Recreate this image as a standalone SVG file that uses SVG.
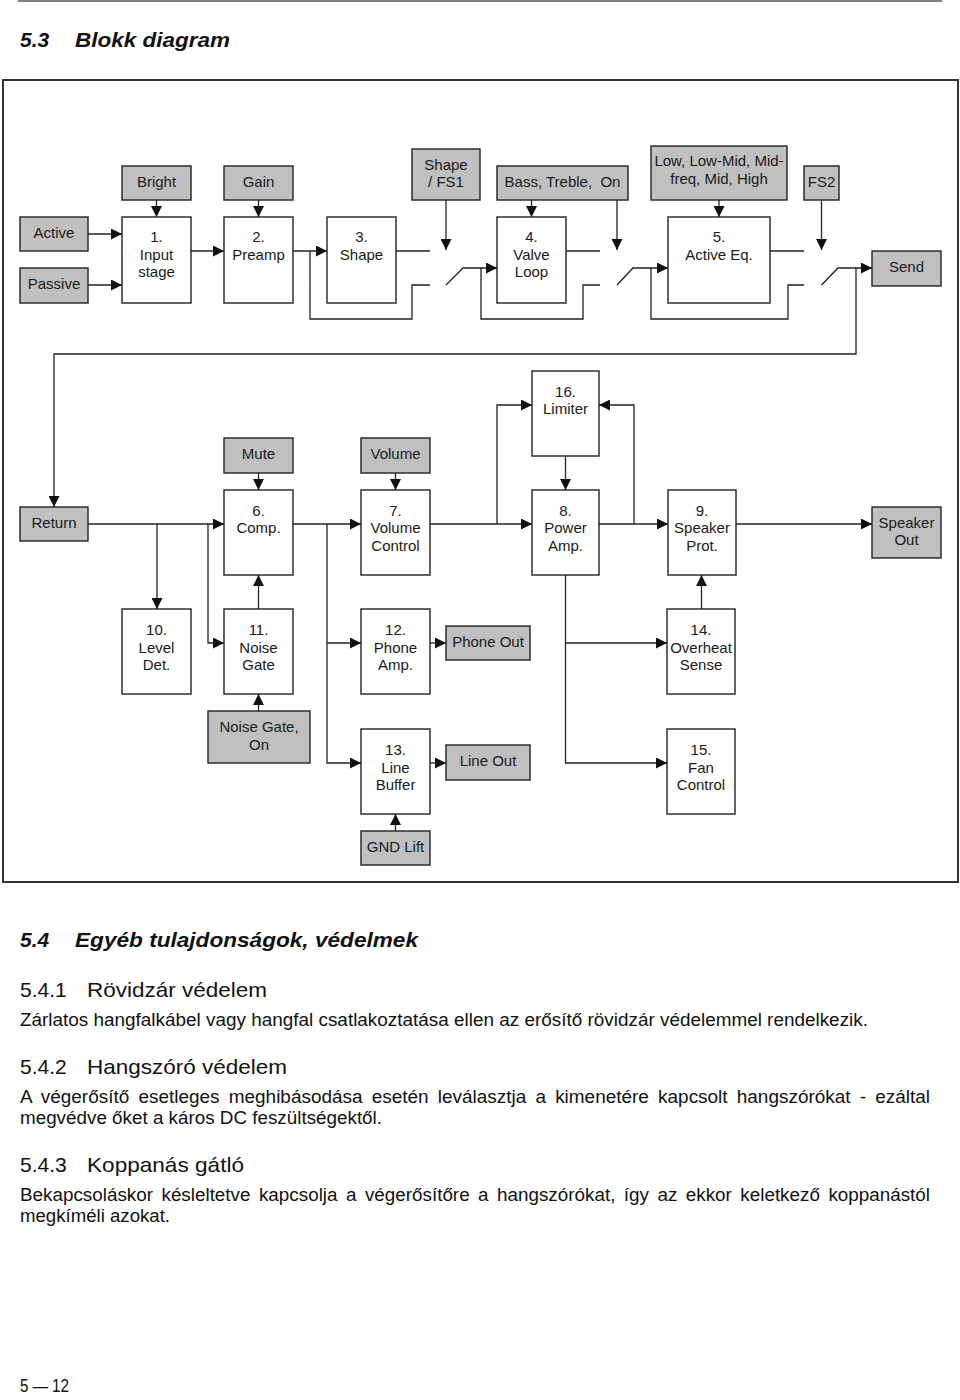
<svg xmlns="http://www.w3.org/2000/svg" width="960" height="1400" viewBox="0 0 960 1400">
<style>
.bx{fill:#fff;stroke:#222;stroke-width:1.4}
.gr{fill:#c0c0c0;stroke:#222;stroke-width:1.4}
.t{font-family:"Liberation Sans",Arial,sans-serif;font-size:15px;fill:#1a1a1a;text-anchor:middle}
.c path{fill:none;stroke:#222;stroke-width:1.3}
.h1{font-family:"Liberation Sans",Arial,sans-serif;font-size:21px;font-weight:bold;font-style:italic;fill:#111}
.h2{font-family:"Liberation Sans",Arial,sans-serif;font-size:21px;fill:#111}
.b{font-family:"Liberation Sans",Arial,sans-serif;font-size:17.5px;fill:#111}
</style>
<defs>
<marker id="ah" markerWidth="11" markerHeight="11" refX="11" refY="5.5" orient="auto" markerUnits="userSpaceOnUse"><path d="M0,0 L11,5.5 L0,11 z" fill="#111"/></marker>
</defs>
<rect width="960" height="1400" fill="#fff"/>
<line x1="18" y1="1" x2="942" y2="1" stroke="#555" stroke-width="1.5"/>
<text class="h1" x="20" y="47">5.3</text>
<text class="h1" x="75" y="47" textLength="155" lengthAdjust="spacingAndGlyphs">Blokk diagram</text>
<rect x="3" y="80" width="955" height="802" fill="none" stroke="#333" stroke-width="2"/>

<g id="connectors" class="c">
<path d="M88,234 H122" marker-end="url(#ah)"/>
<path d="M88,285 H122" marker-end="url(#ah)"/>
<path d="M156.5,200 V217" marker-end="url(#ah)"/>
<path d="M258.5,200 V217" marker-end="url(#ah)"/>
<path d="M191,251 H224" marker-end="url(#ah)"/>
<path d="M293,251 H327" marker-end="url(#ah)"/>
<path d="M310,251 V319 H412 V285 H430"/>
<path d="M396,251 H430"/>
<path d="M446,200 V250" marker-end="url(#ah)"/>
<path d="M446,285 L463,268 H497" marker-end="url(#ah)"/>
<path d="M481,268 V319 H583 V285 H600"/>
<path d="M531.5,200 V217" marker-end="url(#ah)"/>
<path d="M566,251 H600"/>
<path d="M617,200 V250" marker-end="url(#ah)"/>
<path d="M617,285 L633,268 H668" marker-end="url(#ah)"/>
<path d="M651,268 V319 H788 V285 H804"/>
<path d="M719,200 V217" marker-end="url(#ah)"/>
<path d="M770,251 H804"/>
<path d="M821.5,200 V250" marker-end="url(#ah)"/>
<path d="M821.5,285 L838,268 H872" marker-end="url(#ah)"/>
<path d="M856,268 V354 H54 V507" marker-end="url(#ah)"/>
<path d="M88,524 H224" marker-end="url(#ah)"/>
<path d="M258.5,473 V490" marker-end="url(#ah)"/>
<path d="M395.5,473 V490" marker-end="url(#ah)"/>
<path d="M293,524 H361" marker-end="url(#ah)"/>
<path d="M430,524 H532" marker-end="url(#ah)"/>
<path d="M497,524 V405 H532" marker-end="url(#ah)"/>
<path d="M565.5,456 V490" marker-end="url(#ah)"/>
<path d="M599,524 H668" marker-end="url(#ah)"/>
<path d="M634,524 V405 H599" marker-end="url(#ah)"/>
<path d="M736,524 H872" marker-end="url(#ah)"/>
<path d="M157,524 V609" marker-end="url(#ah)"/>
<path d="M208,524 V643 H224" marker-end="url(#ah)"/>
<path d="M258.5,609 V575" marker-end="url(#ah)"/>
<path d="M258.5,711 V694" marker-end="url(#ah)"/>
<path d="M327,524 V763 H361" marker-end="url(#ah)"/>
<path d="M327,643 H361" marker-end="url(#ah)"/>
<path d="M430,643 H446" marker-end="url(#ah)"/>
<path d="M430,763 H446" marker-end="url(#ah)"/>
<path d="M395.5,831 V814" marker-end="url(#ah)"/>
<path d="M565.5,575 V763 H667" marker-end="url(#ah)"/>
<path d="M565.5,643 H667" marker-end="url(#ah)"/>
<path d="M701.5,609 V575" marker-end="url(#ah)"/>
</g>

<g id="bright"><rect class="gr" x="122" y="166" width="69" height="34"/><text class="t" x="156.5" y="187">Bright</text></g>
<g id="gain"><rect class="gr" x="224" y="166" width="69" height="34"/><text class="t" x="258.5" y="187">Gain</text></g>
<g id="shapefs1"><rect class="gr" x="412" y="149" width="68" height="51"/><text class="t" x="446" y="170">Shape</text><text class="t" x="446" y="187">/ FS1</text></g>
<g id="bass"><rect class="gr" x="497" y="166" width="131" height="34"/><text class="t" x="562.5" y="187" xml:space="preserve">Bass, Treble,  On</text></g>
<g id="eqctl"><rect class="gr" x="651" y="146" width="136" height="54"/><text class="t" x="719" y="166">Low, Low-Mid, Mid-</text><text class="t" x="719" y="184">freq, Mid, High</text></g>
<g id="fs2"><rect class="gr" x="804" y="166" width="35" height="34"/><text class="t" x="821.5" y="187">FS2</text></g>

<g id="active"><rect class="gr" x="20" y="217" width="68" height="34"/><text class="t" x="54" y="238">Active</text></g>
<g id="passive"><rect class="gr" x="20" y="268" width="68" height="35"/><text class="t" x="54" y="289">Passive</text></g>
<g id="n1"><rect class="bx" x="122" y="217" width="69" height="86"/><text class="t" x="156.5" y="242">1.</text><text class="t" x="156.5" y="259.5">Input</text><text class="t" x="156.5" y="277">stage</text></g>
<g id="n2"><rect class="bx" x="224" y="217" width="69" height="86"/><text class="t" x="258.5" y="242">2.</text><text class="t" x="258.5" y="259.5">Preamp</text></g>
<g id="n3"><rect class="bx" x="327" y="217" width="69" height="86"/><text class="t" x="361.5" y="242">3.</text><text class="t" x="361.5" y="259.5">Shape</text></g>
<g id="n4"><rect class="bx" x="497" y="217" width="69" height="86"/><text class="t" x="531.5" y="242">4.</text><text class="t" x="531.5" y="259.5">Valve</text><text class="t" x="531.5" y="277">Loop</text></g>
<g id="n5"><rect class="bx" x="668" y="217" width="102" height="86"/><text class="t" x="719" y="242">5.</text><text class="t" x="719" y="259.5">Active Eq.</text></g>
<g id="send"><rect class="gr" x="872" y="251" width="69" height="35"/><text class="t" x="906.5" y="272">Send</text></g>

<g id="n16"><rect class="bx" x="532" y="371" width="67" height="85"/><text class="t" x="565.5" y="396.5">16.</text><text class="t" x="565.5" y="414">Limiter</text></g>
<g id="mute"><rect class="gr" x="224" y="438" width="69" height="35"/><text class="t" x="258.5" y="459">Mute</text></g>
<g id="volume"><rect class="gr" x="361" y="438" width="69" height="35"/><text class="t" x="395.5" y="459">Volume</text></g>

<g id="return"><rect class="gr" x="20" y="507" width="68" height="34"/><text class="t" x="54" y="528">Return</text></g>
<g id="n6"><rect class="bx" x="224" y="490" width="69" height="85"/><text class="t" x="258.5" y="515.5">6.</text><text class="t" x="258.5" y="533">Comp.</text></g>
<g id="n7"><rect class="bx" x="361" y="490" width="69" height="85"/><text class="t" x="395.5" y="515.5">7.</text><text class="t" x="395.5" y="533">Volume</text><text class="t" x="395.5" y="550.5">Control</text></g>
<g id="n8"><rect class="bx" x="532" y="490" width="67" height="85"/><text class="t" x="565.5" y="515.5">8.</text><text class="t" x="565.5" y="533">Power</text><text class="t" x="565.5" y="550.5">Amp.</text></g>
<g id="n9"><rect class="bx" x="668" y="490" width="68" height="85"/><text class="t" x="702" y="515.5">9.</text><text class="t" x="702" y="533">Speaker</text><text class="t" x="702" y="550.5">Prot.</text></g>
<g id="spkout"><rect class="gr" x="872" y="507" width="69" height="51"/><text class="t" x="906.5" y="528">Speaker</text><text class="t" x="906.5" y="545">Out</text></g>

<g id="n10"><rect class="bx" x="122" y="609" width="69" height="85"/><text class="t" x="156.5" y="635">10.</text><text class="t" x="156.5" y="652.5">Level</text><text class="t" x="156.5" y="670">Det.</text></g>
<g id="n11"><rect class="bx" x="224" y="609" width="69" height="85"/><text class="t" x="258.5" y="635">11.</text><text class="t" x="258.5" y="652.5">Noise</text><text class="t" x="258.5" y="670">Gate</text></g>
<g id="n12"><rect class="bx" x="361" y="609" width="69" height="85"/><text class="t" x="395.5" y="635">12.</text><text class="t" x="395.5" y="652.5">Phone</text><text class="t" x="395.5" y="670">Amp.</text></g>
<g id="phoneout"><rect class="gr" x="446" y="626" width="84" height="34"/><text class="t" x="488" y="647">Phone Out</text></g>
<g id="n14"><rect class="bx" x="667" y="609" width="68" height="85"/><text class="t" x="701" y="635">14.</text><text class="t" x="701" y="652.5">Overheat</text><text class="t" x="701" y="670">Sense</text></g>

<g id="ngon"><rect class="gr" x="208" y="711" width="102" height="52"/><text class="t" x="259" y="732">Noise Gate,</text><text class="t" x="259" y="749.5">On</text></g>
<g id="n13"><rect class="bx" x="361" y="729" width="69" height="85"/><text class="t" x="395.5" y="755">13.</text><text class="t" x="395.5" y="772.5">Line</text><text class="t" x="395.5" y="790">Buffer</text></g>
<g id="lineout"><rect class="gr" x="446" y="745" width="84" height="35"/><text class="t" x="488" y="766">Line Out</text></g>
<g id="n15"><rect class="bx" x="667" y="729" width="68" height="85"/><text class="t" x="701" y="755">15.</text><text class="t" x="701" y="772.5">Fan</text><text class="t" x="701" y="790">Control</text></g>
<g id="gndlift"><rect class="gr" x="361" y="831" width="69" height="34"/><text class="t" x="395.5" y="852">GND Lift</text></g>

<text class="h1" x="20" y="947">5.4</text>
<text class="h1" x="75" y="947" textLength="343" lengthAdjust="spacingAndGlyphs">Egyéb tulajdonságok, védelmek</text>
<text class="h2" x="20" y="997">5.4.1</text>
<text class="h2" x="87" y="997" textLength="180" lengthAdjust="spacingAndGlyphs">Rövidzár védelem</text>
<text class="b" x="20" y="1026" textLength="848" lengthAdjust="spacingAndGlyphs">Zárlatos hangfalkábel vagy hangfal csatlakoztatása ellen az erősítő rövidzár védelemmel rendelkezik.</text>
<text class="h2" x="20" y="1073.5">5.4.2</text>
<text class="h2" x="87" y="1073.5" textLength="200" lengthAdjust="spacingAndGlyphs">Hangszóró védelem</text>
<text class="b" x="20" y="1102.5" word-spacing="3.6" textLength="910" lengthAdjust="spacingAndGlyphs">A végerősítő esetleges meghibásodása esetén leválasztja a kimenetére kapcsolt hangszórókat - ezáltal</text>
<text class="b" x="20" y="1123.5" textLength="362" lengthAdjust="spacingAndGlyphs">megvédve őket a káros DC feszültségektől.</text>
<text class="h2" x="20" y="1172">5.4.3</text>
<text class="h2" x="87" y="1172" textLength="157" lengthAdjust="spacingAndGlyphs">Koppanás gátló</text>
<text class="b" x="20" y="1200.5" word-spacing="3" textLength="910" lengthAdjust="spacingAndGlyphs">Bekapcsoláskor késleltetve kapcsolja a végerősítőre a hangszórókat, így az ekkor keletkező koppanástól</text>
<text class="b" x="20" y="1221.5" textLength="150" lengthAdjust="spacingAndGlyphs">megkíméli azokat.</text>
<text class="b" x="20" y="1392" textLength="49" lengthAdjust="spacingAndGlyphs">5 — 12</text>
</svg>
